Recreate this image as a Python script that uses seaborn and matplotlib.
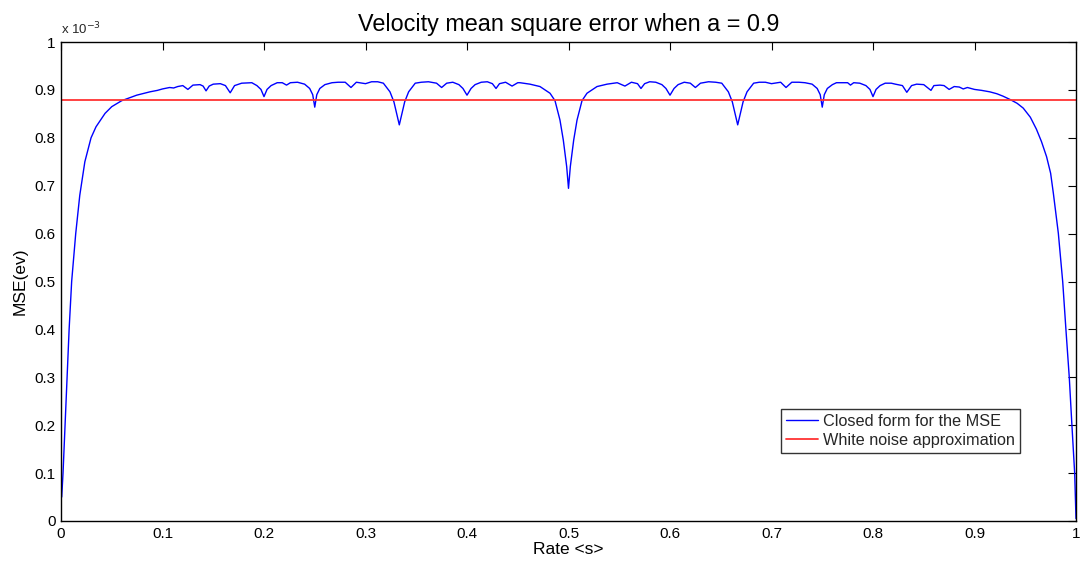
import matplotlib
matplotlib.use("Agg")
import matplotlib.pyplot as plt
import seaborn as sns
import numpy as np
import pandas as pd

# Rate values (left half) and MSE values in units of 1e-3
rate_left = [0.0007, 0.002, 0.004, 0.006, 0.008, 0.0105, 0.0145, 0.0185, 0.0235,
             0.0296, 0.0345, 0.0434, 0.050, 0.0598, 0.0746, 0.0877, 0.095, 0.100, 0.107,
             0.111, 0.115, 0.120, 0.125, 0.130, 0.137, 0.140, 0.1429, 0.146, 0.150,
             0.157, 0.162, 0.1667, 0.171, 0.178, 0.188, 0.193, 0.197, 0.200, 0.203,
             0.207, 0.213, 0.218, 0.2222, 0.226, 0.233, 0.240, 0.245, 0.248, 0.250,
             0.252, 0.255, 0.260, 0.267, 0.273, 0.280, 0.2857, 0.291, 0.300, 0.306,
             0.312, 0.3176, 0.3241, 0.328, 0.3307, 0.3333, 0.3359, 0.3386, 0.3425, 0.349,
             0.355, 0.362, 0.370, 0.375, 0.380, 0.386, 0.392, 0.396, 0.400, 0.404,
             0.408, 0.414, 0.420, 0.425, 0.4286, 0.432, 0.438, 0.4444, 0.450, 0.4522,
             0.462, 0.4719, 0.4818, 0.4867, 0.4916, 0.4949, 0.4982, 0.500]
mse_left = [0.05, 0.10, 0.20, 0.30, 0.40, 0.50, 0.60, 0.68, 0.75,
            0.80, 0.823, 0.851, 0.865, 0.8775, 0.889, 0.896, 0.899, 0.902, 0.905,
            0.904, 0.907, 0.909, 0.901, 0.910, 0.911, 0.908, 0.898, 0.908, 0.912,
            0.913, 0.909, 0.894, 0.909, 0.914, 0.915, 0.909, 0.901, 0.886, 0.901,
            0.909, 0.915, 0.915, 0.910, 0.915, 0.916, 0.912, 0.903, 0.890, 0.864,
            0.890, 0.903, 0.911, 0.915, 0.916, 0.916, 0.905, 0.916, 0.913, 0.917,
            0.917, 0.914, 0.896, 0.875, 0.851, 0.827, 0.851, 0.875, 0.896, 0.914,
            0.916, 0.917, 0.914, 0.905, 0.914, 0.916, 0.911, 0.903, 0.889, 0.903,
            0.911, 0.916, 0.917, 0.913, 0.903, 0.913, 0.916, 0.908, 0.915, 0.915,
            0.912, 0.907, 0.893, 0.8775, 0.837, 0.795, 0.740, 0.6945]

rate_right = [0.5018, 0.5051, 0.5084, 0.5133, 0.5182, 0.5281, 0.538, 0.548, 0.5556, 0.562,
              0.568, 0.5714, 0.575, 0.580, 0.586, 0.592, 0.596, 0.600, 0.604, 0.608,
              0.614, 0.620, 0.625, 0.630, 0.638, 0.645, 0.651, 0.6575, 0.6614, 0.6641,
              0.6667, 0.6693, 0.672, 0.6759, 0.6824, 0.688, 0.694, 0.700, 0.709, 0.7143,
              0.720, 0.727, 0.733, 0.740, 0.745, 0.748, 0.750, 0.752, 0.755, 0.760,
              0.764, 0.770, 0.775, 0.7778, 0.781, 0.787, 0.793, 0.797, 0.800, 0.803,
              0.807, 0.812, 0.818, 0.822, 0.829, 0.8333, 0.838, 0.843, 0.850, 0.8571,
              0.860, 0.866, 0.870, 0.875, 0.880, 0.885, 0.8889, 0.893, 0.900, 0.907,
              0.915, 0.922, 0.928, 0.935, 0.942, 0.948, 0.955, 0.961, 0.966, 0.971,
              0.975, 0.9777, 0.9826, 0.9869, 0.9901, 0.9934, 0.996, 0.9987, 1.000]
mse_right = [0.740, 0.795, 0.837, 0.8775, 0.893, 0.907, 0.912, 0.915, 0.908, 0.916,
             0.913, 0.903, 0.913, 0.917, 0.916, 0.911, 0.903, 0.889, 0.903, 0.911,
             0.916, 0.914, 0.905, 0.914, 0.917, 0.916, 0.914, 0.896, 0.875, 0.851,
             0.827, 0.851, 0.875, 0.896, 0.914, 0.916, 0.916, 0.913, 0.916, 0.905,
             0.916, 0.916, 0.915, 0.912, 0.903, 0.890, 0.864, 0.890, 0.903, 0.911,
             0.915, 0.915, 0.915, 0.910, 0.915, 0.914, 0.909, 0.901, 0.886, 0.901,
             0.909, 0.914, 0.914, 0.912, 0.909, 0.895, 0.909, 0.912, 0.911, 0.899,
             0.909, 0.910, 0.909, 0.901, 0.907, 0.906, 0.902, 0.905, 0.901, 0.899,
             0.896, 0.892, 0.887, 0.880, 0.872, 0.862, 0.843, 0.818, 0.792, 0.7606,
             0.726, 0.684, 0.6006, 0.4997, 0.399, 0.299, 0.199, 0.0995, 0.005]

white_noise_level = 0.878
white_noise_rate = [0.0, 1.0]

x_ticks = [0, 0.1, 0.2, 0.3, 0.4, 0.5, 0.6, 0.7, 0.8, 0.9, 1]
x_tick_labels = ["0", "0.1", "0.2", "0.3", "0.4", "0.5", "0.6", "0.7", "0.8", "0.9", "1"]
y_ticks = [0, 0.1, 0.2, 0.3, 0.4, 0.5, 0.6, 0.7, 0.8, 0.9, 1]
y_tick_labels = ["0", "0.1", "0.2", "0.3", "0.4", "0.5", "0.6", "0.7", "0.8", "0.9", "1"]

closed = pd.DataFrame({"rate": rate_left + rate_right, "mse": mse_left + mse_right})
white = pd.DataFrame({"rate": white_noise_rate,
                      "mse": [white_noise_level] * len(white_noise_rate)})

sns.set_theme(style="white")
plt.rcParams["font.family"] = ["Liberation Sans", "DejaVu Sans"]

fig = plt.figure(figsize=(10.8, 5.63), dpi=100)
ax = fig.add_axes([61 / 1080, 1 - 521 / 563, 1015 / 1080, 479 / 563])

sns.lineplot(data=closed, x="rate", y="mse", ax=ax, color="#0000ff", lw=1.0,
             label="Closed form for the MSE", sort=False, estimator=None)
sns.lineplot(data=white, x="rate", y="mse", ax=ax, color="#ff3333", lw=1.3,
             label="White noise approximation", estimator=None)

ax.set_xlim(0, 1)
ax.set_ylim(0, 1)
ax.set_xticks(x_ticks)
ax.set_xticklabels(x_tick_labels)
ax.set_yticks(y_ticks)
ax.set_yticklabels(y_tick_labels)
ax.tick_params(direction="in", top=True, right=True, length=6, width=0.8,
               labelsize=11, colors="black", pad=4)
for s in ax.spines.values():
    s.set_visible(True)
    s.set_color("black")
    s.set_linewidth(1.0)

ax.set_title("Velocity mean square error when a = 0.9", fontsize=16.8, pad=8, color="black")
ax.set_xlabel("Rate <s>", fontsize=12.5, labelpad=1, color="black")
ax.set_ylabel("MSE(ev)", fontsize=12.5, labelpad=5, color="black")
ax.text(0.0, 1.01, r"x 10$^{-3}$", transform=ax.transAxes, fontsize=9.5, ha="left", va="bottom")

leg = ax.legend(loc="upper left", bbox_to_anchor=(0.709, 0.234), borderaxespad=0,
                fontsize=11.7, frameon=True, fancybox=False, edgecolor="black",
                handlelength=2.0, handletextpad=0.3, borderpad=0.3, labelspacing=0.25)
leg.get_frame().set_linewidth(1.0)

fig.savefig("out.png", dpi=100)
